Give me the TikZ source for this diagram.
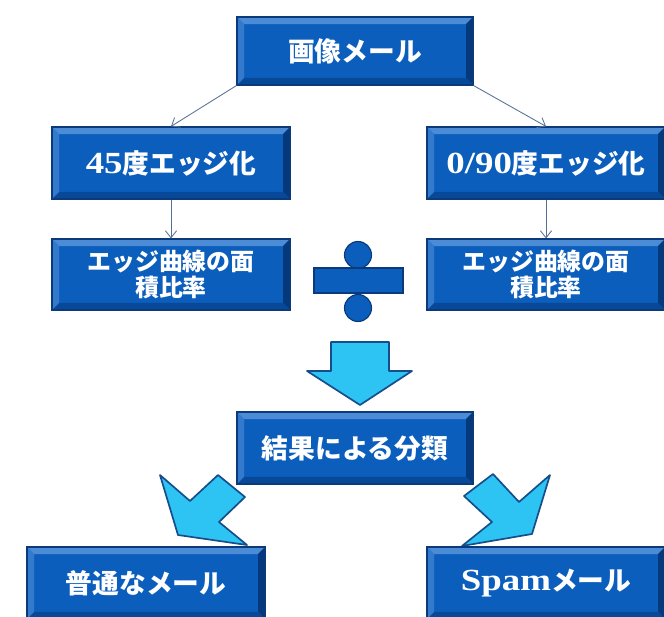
\documentclass[tikz,border=0pt]{standalone}
\usepackage{fontspec}
\setmainfont{Liberation Serif}
\newfontfamily\jp{Noto Sans CJK JP}
\newfontfamily\lat{Liberation Serif}[Scale=1.15, FakeStretch=1.2]
\usetikzlibrary{arrows.meta}

\definecolor{flaeche}{RGB}{12,94,188}
\definecolor{rand}{RGB}{10,58,122}
\definecolor{kanteoben}{RGB}{76,140,214}
\definecolor{kantelinks}{RGB}{52,122,204}
\definecolor{kanteunten}{RGB}{8,72,152}
\definecolor{kanterechts}{RGB}{6,56,124}
\definecolor{pfeilfarbe}{RGB}{45,196,243}
\definecolor{pfeilrand}{RGB}{22,78,140}
\definecolor{linie}{RGB}{84,112,150}

\newcommand{\kantenbreite}{5pt}

\begin{document}
\begin{tikzpicture}
		[
		x=0.025cm, y=-0.025cm, >={Straight Barb[length=5pt,width=8pt]},
		%Voreinstellung für die Kästen
		kasten/.style={draw=rand, line width=0.8pt, fill=flaeche, text=white, inner sep=0pt,
			minimum width=5.95cm, minimum height=1.8cm, align=center,
			font=\jp\bfseries\fontsize{19pt}{24pt}\selectfont,
			path picture={
				\path (path picture bounding box.south west) coordinate (uw)
				(path picture bounding box.north east) coordinate (ro)
				(uw|-ro) coordinate (lo)
				(ro|-uw) coordinate (ru);
				\fill[kanteoben] (lo) -- (ro) -- ([shift={(-\kantenbreite,-\kantenbreite)}]ro) -- ([shift={(\kantenbreite,-\kantenbreite)}]lo) -- cycle;
				\fill[kanterechts] (ro) -- (ru) -- ([shift={(-\kantenbreite,\kantenbreite)}]ru) -- ([shift={(-\kantenbreite,-\kantenbreite)}]ro) -- cycle;
				\fill[kanteunten] (ru) -- (uw) -- ([shift={(\kantenbreite,\kantenbreite)}]uw) -- ([shift={(-\kantenbreite,\kantenbreite)}]ru) -- cycle;
				\fill[kantelinks] (uw) -- (lo) -- ([shift={(\kantenbreite,-\kantenbreite)}]lo) -- ([shift={(\kantenbreite,\kantenbreite)}]uw) -- cycle;
			}},
		%kleinere Schrift, zwei Zeilen
		kastenklein/.style={kasten, font=\jp\bfseries\fontsize{17pt}{19pt}\selectfont},
		%Blockpfeile
		pfeil/.style={fill=pfeilfarbe, draw=pfeilrand, line width=1.2pt, line join=round},
		verbindung/.style={->, draw=linie, line width=0.6pt}
		]
		
		%Hintergrund und Größe
		\fill[white] (0,0) rectangle (664,617);
		\useasboundingbox (0,0) rectangle (664,617);
		
		%Blockpfeile unter den Kästen
		\draw[pfeil] (331,342)--(389,342)--(389,371)--(412,371)--(360,405)--(307,371)--(331,371)--cycle;
		\draw[pfeil] (218,475)--(245,497)--(219,522)--(247,545)--(178,535)--(160,475)--(190,501)--cycle;
		\draw[pfeil] (493,474)--(464,496)--(492,522)--(462,546)--(532,534)--(550,475)--(519,502)--cycle;
		
		%Kästen
		\node[kasten, minimum width=5.9cm, minimum height=1.7cm] (mail) at (355,51) {画像メール};
		\node[kasten] (kante45) at (171,163) {{\lat 45}度エッジ化};
		\node[kasten] (kante090) at (546,163) {{\lat 0/90}度エッジ化};
		\node[kastenklein, minimum height=1.775cm] (flaecheL) at (171,274.5) {エッジ曲線の面\\積比率};
		\node[kastenklein, minimum height=1.775cm] (flaecheR) at (546,274.5) {エッジ曲線の面\\積比率};
		\node[kasten, minimum width=5.9cm] (ergebnis) at (355,448) {結果による分類};
		\node[kasten] (normal) at (146,583) {普通なメール};
		\node[kasten] (spam) at (546,583) {{\lat Spam}メール};
		
		%Divisionszeichen
		\draw[fill=flaeche, draw=rand, line width=0.8pt] (358,255) circle (13.5);
		\draw[fill=flaeche, draw=rand, line width=0.8pt] (358,308) circle (13.5);
		\draw[fill=flaeche, draw=rand, line width=0.8pt] (314,268) rectangle (403,293);
		
		%Verbindungslinien
		\draw[verbindung] (mail.south west) -- (kante45.north);
		\draw[verbindung] (mail.south east) -- (kante090.north);
		\draw[verbindung] (kante45.south) -- (flaecheL.north);
		\draw[verbindung] (kante090.south) -- (flaecheR.north);
	\end{tikzpicture}
\end{document}
